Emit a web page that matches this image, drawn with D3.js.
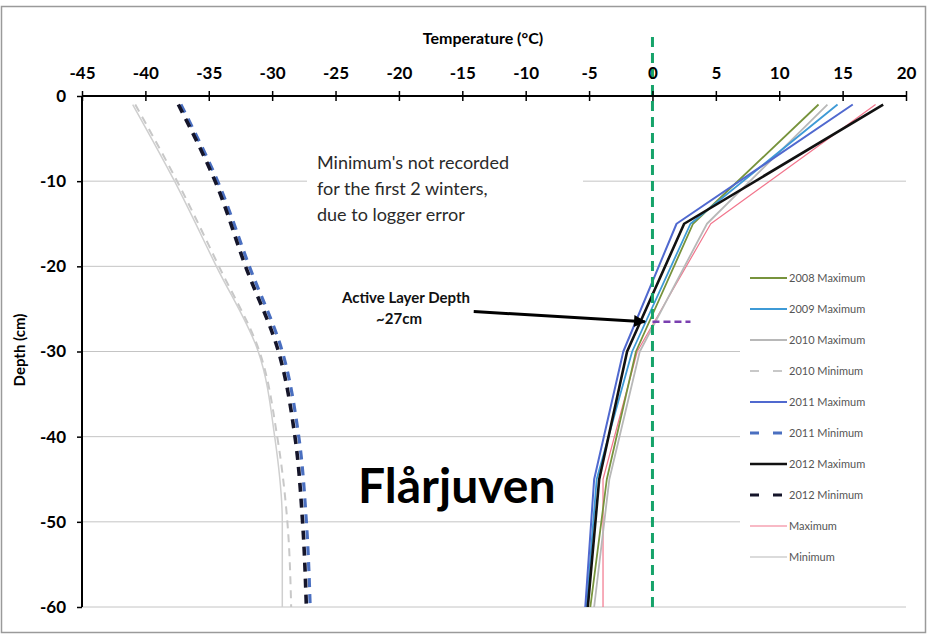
<!DOCTYPE html>
<html><head><meta charset="utf-8">
<script src="https://cdn.jsdelivr.net/npm/d3@7"></script>
<style>body{margin:0;background:#fff}svg{display:block}text{font-family:Lato,"Open Sans",sans-serif}</style>
</head><body>
<script>
// ---- data ----
const depthsMax = [-1, -15, -30, -45, -60];
const depthsMin = [-1, -10, -20, -30, -40, -50, -60];
const xTicks = [-45,-40,-35,-30,-25,-20,-15,-10,-5,0,5,10,15,20];
const yTicks = [0,-10,-20,-30,-40,-50,-60];
const max2008 = [13.1, 3.2, -1.3, -3.6, -4.9];
const max2009 = [14.6, 3.0, -1.6, -4.4, -5.2];
const max2010 = [13.8, 4.3, -1.0, -3.4, -4.6];
const min2010 = [-40.8, -37.5, -34.2, -31.0, -29.6, -28.8, -28.5];
const max2011 = [15.8, 1.9, -2.3, -4.6, -5.3];
const min2011 = [-37.2, -34.3, -31.8, -29.2, -27.9, -27.3, -27.0];
const max2012 = [18.2, 2.5, -2.0, -4.2, -5.1];
const min2012 = [-37.4, -34.5, -32.1, -29.5, -28.2, -27.6, -27.3];
const maxAll = [17.6, 4.6, -1.2, -3.9, -3.9];
const minAll = [-41.0, -37.7, -34.4, -31.1, -29.8, -29.2, -29.2];
const activeLayerDepth = -26.5;
const seriesNames = ["2008 Maximum","2009 Maximum","2010 Maximum","2010 Minimum","2011 Maximum","2011 Minimum","2012 Maximum","2012 Minimum","Maximum","Minimum"];

const series = [
  {name:"Maximum", v:maxAll, d:depthsMax, c:"#f2758c", w:1.2, dash:null, curve:false},
  {name:"Minimum", v:minAll, d:depthsMin, c:"#cfcfcf", w:1.5, dash:null, curve:true},
  {name:"2010 Maximum", v:max2010, d:depthsMax, c:"#b8b8b8", w:1.8, dash:null, curve:false},
  {name:"2010 Minimum", v:min2010, d:depthsMin, c:"#c8c8c8", w:2, dash:"8,6", curve:true},
  {name:"2008 Maximum", v:max2008, d:depthsMax, c:"#77933c", w:1.8, dash:null, curve:false},
  {name:"2009 Maximum", v:max2009, d:depthsMax, c:"#3e9ad6", w:1.8, dash:null, curve:false},
  {name:"2011 Maximum", v:max2011, d:depthsMax, c:"#5069cf", w:2, dash:null, curve:false},
  {name:"2011 Minimum", v:min2011, d:depthsMin, c:"#4a6fc0", w:3.2, dash:"9,7", curve:true},
  {name:"2012 Maximum", v:max2012, d:depthsMax, c:"#111111", w:2.6, dash:null, curve:false},
  {name:"2012 Minimum", v:min2012, d:depthsMin, c:"#15152a", w:3.6, dash:"9,7", curve:true}
];
const legendStyle = {};
series.forEach(s => legendStyle[s.name] = s);

const W = 928, H = 640;
const svg = d3.select("body").append("svg").attr("width", W).attr("height", H);
svg.append("rect").attr("x",1.5).attr("y",6.5).attr("width",924).attr("height",626)
  .attr("fill","#fff").attr("stroke","#9a9a9a").attr("stroke-width",1.5);

const x = d3.scaleLinear().domain([-45, 20]).range([82, 906]);
const y = d3.scaleLinear().domain([0, -60]).range([96, 607]);

// gridlines
svg.append("g").selectAll("line").data(yTicks.slice(1)).join("line")
  .attr("x1", x(-45)).attr("x2", x(20)).attr("y1", d => y(d)).attr("y2", d => y(d))
  .attr("stroke", "#c4c4c4").attr("stroke-width", 1);

// white box behind note text (covers gridline)
svg.append("rect").attr("x",307).attr("y",148).attr("width",276).attr("height",78).attr("fill","#fff");
// legend box
svg.append("rect").attr("x",740).attr("y",260).attr("width",166).attr("height",312).attr("fill","#fff");

// series lines
series.forEach(s => {
  const pts = s.d.map((d,i) => [s.v[i], d]);
  const line = d3.line().x(p => x(p[0])).y(p => y(p[1]))
    .curve(s.curve ? d3.curveMonotoneY : d3.curveLinear);
  svg.append("path").attr("d", line(pts)).attr("fill","none")
    .attr("stroke", s.c).attr("stroke-width", s.w)
    .attr("stroke-dasharray", s.dash).attr("stroke-linejoin","round");
});

// zero line
svg.append("line").attr("x1", x(0)).attr("x2", x(0)).attr("y1", 37).attr("y2", y(-60))
  .attr("stroke", "#16a36a").attr("stroke-width", 3).attr("stroke-dasharray", "10,6");

// active layer dashed line
svg.append("line").attr("x1", x(0)).attr("x2", x(3)).attr("y1", y(activeLayerDepth)).attr("y2", y(activeLayerDepth))
  .attr("stroke", "#7a3fb0").attr("stroke-width", 2.5).attr("stroke-dasharray", "7,4");

// arrow
const defs = svg.append("defs");
defs.append("marker").attr("id","ah").attr("viewBox","0 0 10 10").attr("refX",9).attr("refY",5)
  .attr("markerWidth",5).attr("markerHeight",4).attr("markerUnits","strokeWidth").attr("orient","auto")
  .append("path").attr("d","M0,0 L10,5 L0,10 z").attr("fill","#000");
svg.append("line").attr("x1", x(-14.1)).attr("y1", y(-25.3)).attr("x2", x(-0.6)).attr("y2", y(activeLayerDepth))
  .attr("stroke","#000").attr("stroke-width",3).attr("marker-end","url(#ah)");

// axes
const gx = svg.append("g").attr("transform", `translate(0,${y(0)})`)
  .call(d3.axisTop(x).tickValues(xTicks).tickSize(5).tickPadding(12).tickFormat(d3.format("d")));
gx.select(".domain").attr("stroke","#000").attr("stroke-width",2).attr("d", `M${x(-45)},0H${x(20)}`);
gx.selectAll(".tick line").attr("y1",-5).attr("y2",5).attr("stroke","#000").attr("stroke-width",1.5);
gx.selectAll(".tick text").attr("font-size",17).attr("font-weight","bold").attr("fill","#000")
  .attr("font-family","Lato, sans-serif").text(d => d < 0 ? "-" + Math.abs(d) : d);

const gy = svg.append("g").attr("transform", `translate(${x(-45)},0)`)
  .call(d3.axisLeft(y).tickValues(yTicks).tickSize(5).tickPadding(11).tickFormat(d3.format("d")));
gy.select(".domain").attr("stroke","#000").attr("stroke-width",2).attr("d", `M0,${y(0)}V${y(-60)}`);
gy.selectAll(".tick line").attr("stroke","#000").attr("stroke-width",1.5);
gy.selectAll(".tick text").attr("font-size",17).attr("font-weight","bold").attr("fill","#000")
  .attr("font-family","Lato, sans-serif").text(d => d < 0 ? "-" + Math.abs(d) : d);

// axis titles
svg.append("text").attr("x", 483).attr("y", 44).attr("text-anchor","middle")
  .attr("font-size",16).attr("font-weight","bold").text("Temperature (°C)");
svg.append("text").attr("transform","translate(25,350) rotate(-90)").attr("text-anchor","middle")
  .attr("font-size",15).attr("font-weight","bold").text("Depth (cm)");

// notes
const note = ["Minimum's not recorded","for the first 2 winters,","due to logger error"];
svg.append("g").selectAll("text").data(note).join("text")
  .attr("x",317).attr("y",(d,i)=>169 + i*26).attr("font-size",18).attr("fill","#2a2a2a").text(d=>d);
svg.append("text").attr("x",406).attr("y",303).attr("text-anchor","middle").attr("font-size",15)
  .attr("font-weight","bold").attr("fill","#111").text("Active Layer Depth");
svg.append("text").attr("x",399).attr("y",324).attr("text-anchor","middle").attr("font-size",15)
  .attr("font-weight","bold").attr("fill","#111").text("~27cm");
svg.append("text").attr("x",358).attr("y",503).attr("font-size",48).attr("font-weight","bold")
  .attr("fill","#000").text("Flårjuven");

// legend
const lg = svg.append("g");
seriesNames.forEach((n,i) => {
  const s = legendStyle[n];
  const yy = 278 + i*31;
  lg.append("line").attr("x1",750).attr("x2",787).attr("y1",yy).attr("y2",yy)
    .attr("stroke", s.c).attr("stroke-width", Math.min(s.w, 3))
    .attr("stroke-dasharray", s.dash ? "9,14" : null);
  lg.append("text").attr("x",789).attr("y",yy+4).attr("font-size",11).attr("fill","#555").text(n);
});
</script>
</body></html>
